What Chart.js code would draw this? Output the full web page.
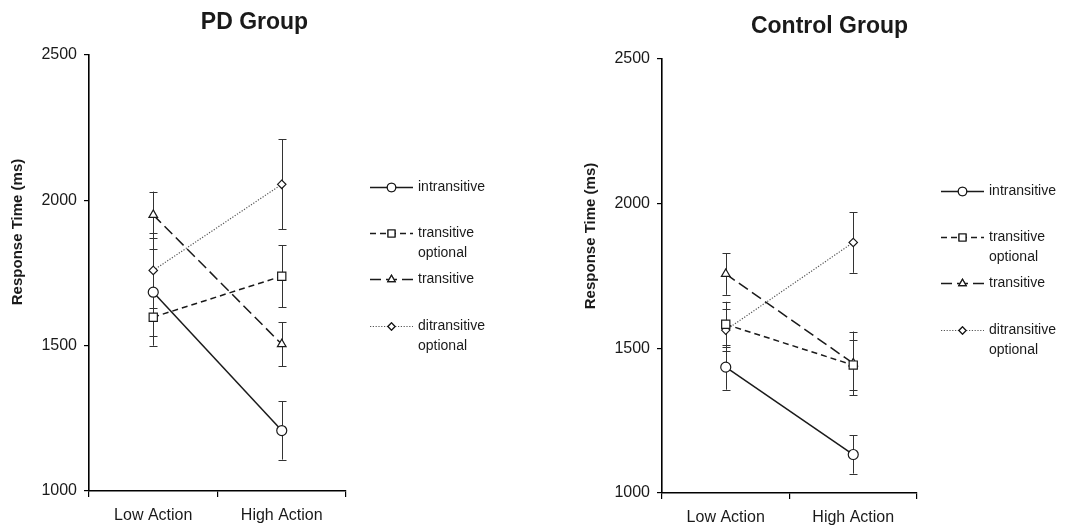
<!DOCTYPE html>
<html>
<head>
<meta charset="utf-8">
<script src="https://cdn.jsdelivr.net/npm/chart.js@4/dist/chart.umd.min.js"></script>
<style>
  html, body { margin: 0; padding: 0; background: #fff; }
  #wrap { position: relative; width: 1073px; height: 527px; }
  .box { position: absolute; top: 0; height: 527px; }
  #boxPD { left: 0; width: 536px; }
  #boxCT { left: 536px; width: 537px; }
</style>
</head>
<body>
<div id="wrap">
  <div class="box" id="boxPD"><canvas id="chartPD"></canvas></div>
  <div class="box" id="boxCT"><canvas id="chartCT"></canvas></div>
</div>
<script>
var categories = ['Low Action', 'High Action'];
var yTicks = [1000, 1500, 2000, 2500];
var seriesNames = ['intransitive', 'transitive optional', 'transitive', 'ditransitive optional'];
var legendLines = [['intransitive'], ['transitive', 'optional'], ['transitive'], ['ditransitive', 'optional']];

// PD group
var pdIntransitive = [1684, 1208];
var pdIntransitiveErr = [150, 100];
var pdTransOptional = [1598, 1739];
var pdTransOptionalErr = [98, 107];
var pdTransitive = [1950, 1505];
var pdTransitiveErr = [80, 75];
var pdDitransOptional = [1759, 2055];
var pdDitransOptionalErr = [128, 155];

// Control group
var ctIntransitive = [1435, 1133];
var ctIntransitiveErr = [78, 66];
var ctTransOptional = [1583, 1442];
var ctTransOptionalErr = [78, 86];
var ctTransitive = [1757, 1448];
var ctTransitiveErr = [72, 110];
var ctDitransOptional = [1563, 1866];
var ctDitransOptionalErr = [73, 105];

var FONT = "'Liberation Sans', Arial, sans-serif";
var INK = '#1a1a1a';

var styles = [
  { dash: [], pointStyle: 'circle', radius: 5, color: '#1a1a1a', width: 1.5 },
  { dash: [6, 4], pointStyle: 'rect', radius: 5.8, color: '#1a1a1a', width: 1.5 },
  { dash: [11, 5], pointStyle: 'triangle', radius: 5, color: '#1a1a1a', width: 1.5 },
  { dash: [1.2, 1.6], pointStyle: 'rectRot', radius: 4.2, color: '#555', width: 1.2 }
];

function makeDatasets(values, errors) {
  return values.map(function (v, i) {
    var s = styles[i];
    return {
      label: seriesNames[i],
      data: v,
      errors: errors[i],
      borderColor: s.color,
      borderWidth: s.width,
      borderDash: s.dash,
      pointStyle: s.pointStyle,
      pointRadius: s.radius,
      pointBackgroundColor: '#fff',
      pointBorderColor: '#1a1a1a',
      pointBorderWidth: 1.2,
      tension: 0,
      fill: false
    };
  });
}

// error bars drawn below the lines so white markers cover them
var errorBars = {
  id: 'errorBars',
  beforeDatasetsDraw: function (chart) {
    var ctx = chart.ctx;
    var y = chart.scales.y;
    ctx.save();
    ctx.strokeStyle = '#333';
    ctx.lineWidth = 1;
    chart.data.datasets.forEach(function (ds, i) {
      var meta = chart.getDatasetMeta(i);
      meta.data.forEach(function (pt, j) {
        var v = ds.data[j], e = ds.errors[j];
        var x = Math.round(pt.x) + 0.5;
        var top = y.getPixelForValue(v + e);
        var bot = y.getPixelForValue(v - e);
        ctx.beginPath();
        ctx.moveTo(x, top); ctx.lineTo(x, bot);
        ctx.moveTo(x - 4, Math.round(top) + 0.5); ctx.lineTo(x + 4, Math.round(top) + 0.5);
        ctx.moveTo(x - 4, Math.round(bot) + 0.5); ctx.lineTo(x + 4, Math.round(bot) + 0.5);
        ctx.stroke();
      });
    });
    ctx.restore();
  }
};

// titles, y-axis title and side legend
var decorations = {
  id: 'decorations',
  afterDraw: function (chart, args, opts) {
    var ctx = chart.ctx;
    var area = chart.chartArea;
    ctx.save();
    ctx.fillStyle = INK;
    ctx.textAlign = 'center';
    ctx.textBaseline = 'middle';
    ctx.font = 'bold 23px ' + FONT;
    ctx.fillText(opts.title, (area.left + area.right) / 2 + opts.titleShift, area.top - 32);

    ctx.save();
    ctx.translate(area.left - 71, area.top + 177);
    ctx.rotate(-Math.PI / 2);
    ctx.font = 'bold 15px ' + FONT;
    ctx.fillText('Response Time (ms)', 0, 0);
    ctx.restore();

    var rows = [132, 178, 224, 271];
    var x0 = area.right + 24, x1 = x0 + 43, xm = (x0 + x1) / 2;
    chart.data.datasets.forEach(function (ds, i) {
      var s = styles[i];
      var yy = Math.round(area.top + rows[i]) + 0.5;
      ctx.beginPath();
      ctx.setLineDash(s.dash);
      ctx.strokeStyle = s.color;
      ctx.lineWidth = s.width;
      ctx.moveTo(x0, yy); ctx.lineTo(x1, yy);
      ctx.stroke();
      ctx.setLineDash([]);
      ctx.lineWidth = 1.2;
      ctx.strokeStyle = '#1a1a1a';
      ctx.fillStyle = '#fff';
      Chart.helpers.drawPoint(ctx, { pointStyle: s.pointStyle, radius: s.radius * 0.85, borderWidth: 1.2 }, xm, yy);
      ctx.fill();
      ctx.stroke();
      ctx.fillStyle = INK;
      ctx.textAlign = 'left';
      ctx.font = '14px ' + FONT;
      legendLines[i].forEach(function (line, k) {
        ctx.fillText(line, x1 + 5, yy + k * 20);
      });
    });
    ctx.restore();
  }
};

function buildChart(id, datasets, opts) {
  return new Chart(document.getElementById(id), {
    type: 'line',
    data: { labels: categories, datasets: datasets },
    plugins: [errorBars, decorations],
    options: {
      responsive: true,
      maintainAspectRatio: false,
      animation: false,
      layout: { padding: { top: opts.top, right: opts.right, left: 0, bottom: 0 } },
      plugins: {
        legend: { display: false },
        tooltip: { enabled: false },
        decorations: { title: opts.title, titleShift: opts.titleShift }
      },
      scales: {
        x: {
          type: 'category',
          offset: true,
          afterFit: function (scale) { scale.height = opts.xHeight; },
          grid: { display: true, offset: true, drawOnChartArea: false, drawTicks: true, tickLength: 6, color: '#000', lineWidth: 1.2 },
          border: { display: true, color: '#000', width: 1.6 },
          ticks: { color: INK, font: { family: FONT, size: 16 }, padding: 9 }
        },
        y: {
          min: 1000,
          max: 2500,
          afterFit: function (scale) { scale.width = opts.yWidth; },
          afterBuildTicks: function (scale) {
            scale.ticks = yTicks.map(function (v) { return { value: v }; });
          },
          grid: { display: true, drawOnChartArea: false, drawTicks: true, tickLength: 5, color: '#000', lineWidth: 1.2 },
          border: { display: true, color: '#000', width: 1.6 },
          ticks: {
            color: INK,
            font: { family: FONT, size: 16 },
            padding: 7,
            callback: function (v) { return String(v); }
          }
        }
      }
    }
  });
}

buildChart('chartPD',
  makeDatasets([pdIntransitive, pdTransOptional, pdTransitive, pdDitransOptional],
               [pdIntransitiveErr, pdTransOptionalErr, pdTransitiveErr, pdDitransOptionalErr]),
  { title: 'PD Group', titleShift: 37, top: 55, right: 190, yWidth: 89, xHeight: 36 });

buildChart('chartCT',
  makeDatasets([ctIntransitive, ctTransOptional, ctTransitive, ctDitransOptional],
               [ctIntransitiveErr, ctTransOptionalErr, ctTransitiveErr, ctDitransOptionalErr]),
  { title: 'Control Group', titleShift: 40, top: 59, right: 156, yWidth: 126, xHeight: 34 });
</script>
</body>
</html>
